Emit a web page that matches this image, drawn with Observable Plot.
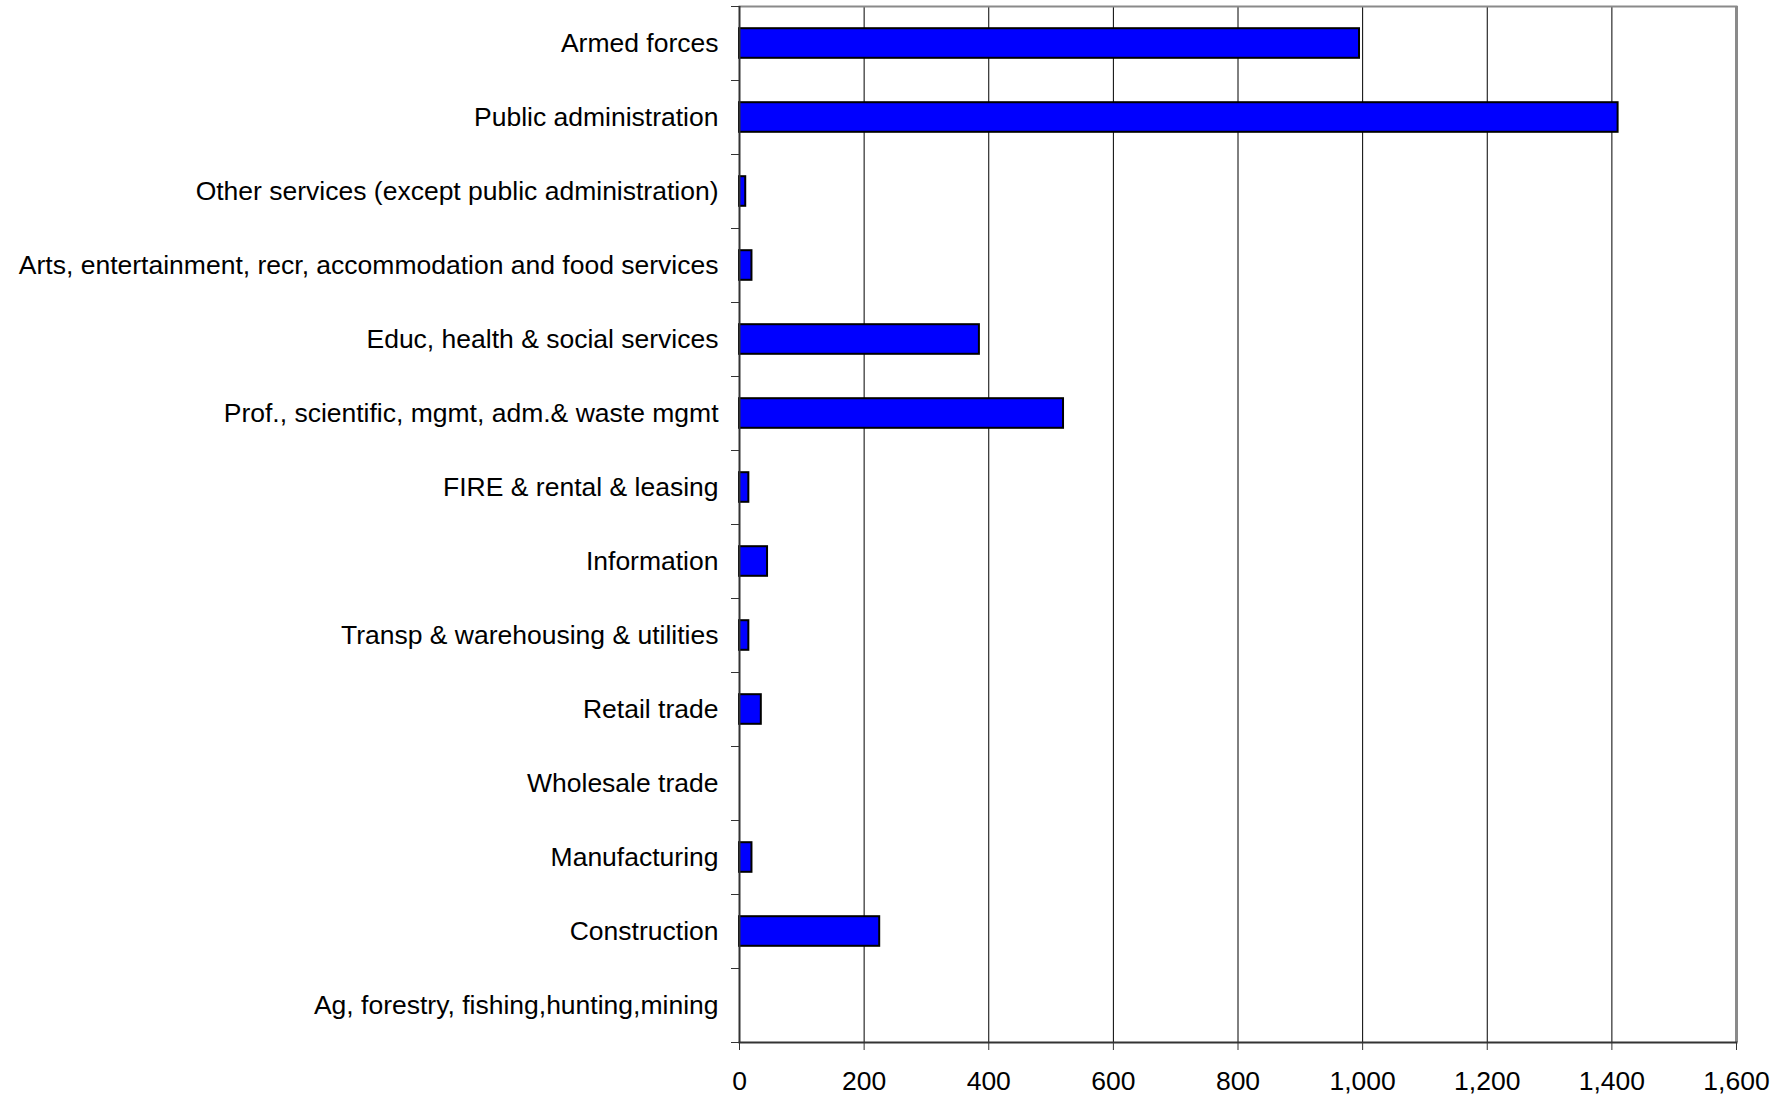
<!DOCTYPE html>
<html>
<head>
<meta charset="utf-8">
<script src="https://cdn.jsdelivr.net/npm/d3@7"></script>
<script src="https://cdn.jsdelivr.net/npm/@observablehq/plot@0.6"></script>
<style>
  html, body { margin: 0; padding: 0; background: white; }
  svg { display: block; }
</style>
</head>
<body>
<div id="chart"></div>
<script>
const categories = [
  "Armed forces",
  "Public administration",
  "Other services (except public administration)",
  "Arts, entertainment, recr, accommodation and food services",
  "Educ, health & social services",
  "Prof., scientific, mgmt, adm.& waste mgmt",
  "FIRE & rental & leasing",
  "Information",
  "Transp & warehousing & utilities",
  "Retail trade",
  "Wholesale trade",
  "Manufacturing",
  "Construction",
  "Ag, forestry, fishing,hunting,mining"
];
const values = [995, 1410, 10, 20, 385, 520, 15, 45, 15, 35, 0, 20, 225, 0];
const xTicks = [0, 200, 400, 600, 800, 1000, 1200, 1400, 1600];
const gridTicks = [200, 400, 600, 800, 1000, 1200, 1400];

const data = categories.map((c, i) => ({category: c, value: values[i]}));

const W = 1791, H = 1095, mT = 6, mB = 53, mL = 739, mR = 55;
const step = (H - mT - mB) / categories.length;

const chart = Plot.plot({
  width: W,
  height: H,
  marginLeft: mL,
  marginRight: mR,
  marginTop: mT,
  marginBottom: mB,
  style: {fontFamily: "'Liberation Sans', Arial, sans-serif", fontSize: "26.5px", color: "black", background: "white", overflow: "visible"},
  x: {domain: [0, 1600], label: null},
  y: {domain: categories, paddingInner: 0.6, paddingOuter: 0.3, round: false, label: null},
  marks: [
    Plot.gridX(gridTicks, {stroke: "black", strokeOpacity: 1, strokeWidth: 1}),
    Plot.ruleX([1600], {stroke: "#8a8a8a", strokeWidth: 3}),
    Plot.frame({anchor: "top", stroke: "#8a8a8a", strokeWidth: 2}),
    Plot.barX(data, {x: "value", y: "category", fill: "#0000FF", stroke: "black", strokeWidth: 2}),
    Plot.frame({anchor: "bottom", stroke: "#333", strokeWidth: 2}),
    Plot.ruleX([0], {stroke: "#333", strokeWidth: 2}),
    Plot.axisX({ticks: xTicks, tickSize: 8, tickPadding: 21, tickFormat: d3.format(","), label: null, stroke: "#333"}),
    Plot.axisY({tickSize: 0, tickPadding: 21, label: null}),
    Plot.axisY({tickSize: 8, tickFormat: () => "", dy: step / 2, label: null, stroke: "#333"}),
    Plot.axisY({ticks: [categories[0]], tickSize: 8, tickFormat: () => "", dy: -step / 2, label: null, stroke: "#333"})
  ]
});
document.getElementById("chart").appendChild(chart);
</script>
</body>
</html>
